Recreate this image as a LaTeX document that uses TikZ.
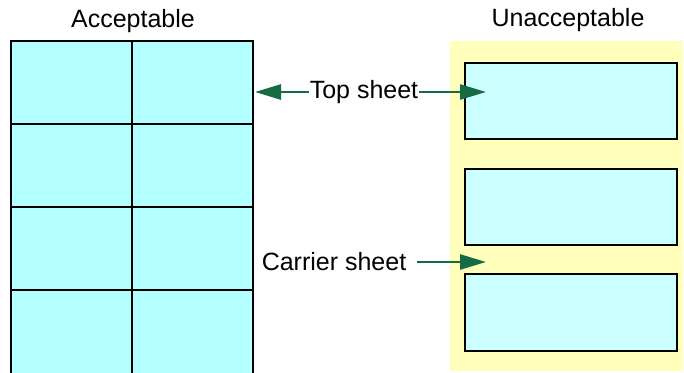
\documentclass[tikz,border=0pt]{standalone}
\usepackage{fontspec}
\setmainfont{Liberation Sans}
\usetikzlibrary{arrows.meta}
\definecolor{cellfill}{HTML}{B3FFFF}
\definecolor{boxfill}{HTML}{CCFFFF}
\definecolor{padfill}{HTML}{FFFFBB}
\definecolor{arrowgreen}{HTML}{176B42}
\begin{document}
\begin{tikzpicture}[x=1pt,y=-1pt,
  cell/.style={draw=black,line width=2pt,fill=cellfill},
  labelbox/.style={draw=black,line width=2pt,fill=boxfill},
  lbl/.style={font=\fontsize{25}{29}\selectfont,inner sep=1pt},
  garrow/.style={draw=arrowgreen,line width=2.6pt,-{Triangle[length=26pt 0,width=15pt 0]}}]
\useasboundingbox (0,0) rectangle (684,372);
\clip (0,0) rectangle (684,372);
% left sheet
\foreach \r/\ya/\yb in {1/41/124,2/124/206.7,3/206.7/289.7,4/289.7/374}{
  \draw[cell] (11,\ya) rectangle (132,\yb);
  \draw[cell] (132,\ya) rectangle (253,\yb);
}
\node[lbl] (acc) at (133,21) {Acceptable};
% right sheet
\fill[padfill] (450,41) rectangle (683,371);
\node[lbl] (unacc) at (568,20) {Unacceptable};
\draw[labelbox] (464.7,63.3) rectangle (677.3,139);
\draw[labelbox] (464.7,168.7) rectangle (677.3,245);
\draw[labelbox] (464.7,274.3) rectangle (677.3,350.7);
% labels and arrows
\node[lbl] (top) at (364,92) {Top sheet};
\node[lbl] (carrier) at (334,262) {Carrier sheet};
\coordinate (topL) at (255,92);
\coordinate (topR) at (486,92);
\coordinate (carR) at (486,262);
\draw[garrow] (top.west) -- (topL);
\draw[garrow] (top.east) -- (topR);
\draw[garrow] ([xshift=10pt]carrier.east) -- (carR);
\end{tikzpicture}
\end{document}
